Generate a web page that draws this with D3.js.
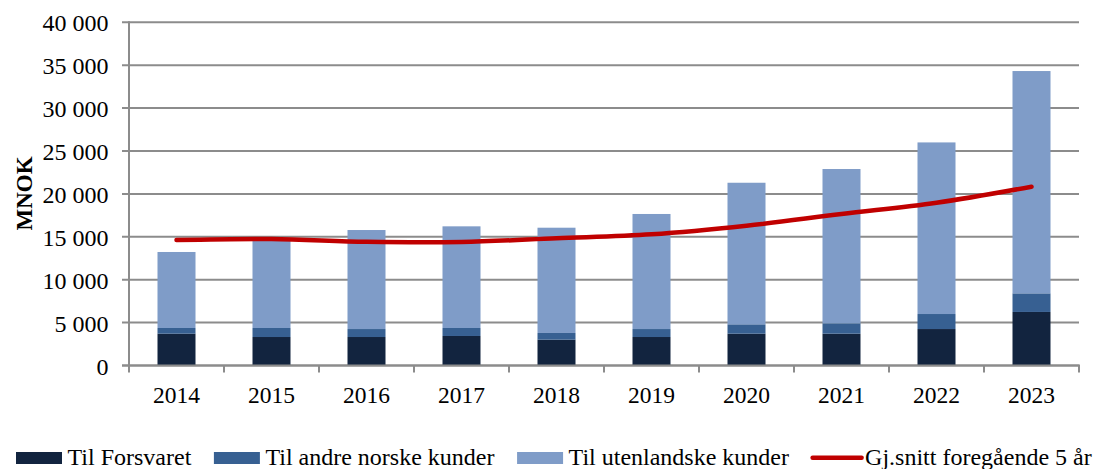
<!DOCTYPE html>
<html>
<head>
<meta charset="utf-8">
<script src="https://cdn.jsdelivr.net/npm/d3@7"></script>
<style>
  html, body { margin: 0; padding: 0; background: #fff; }
  svg { display: block; }
  text { font-family: "Liberation Serif", "DejaVu Serif", serif; fill: #000; }
</style>
</head>
<body>
<svg id="chart" width="1094" height="469"></svg>
<script>
const years = ["2014","2015","2016","2017","2018","2019","2020","2021","2022","2023"];
const forsvaret = [3710, 3320, 3320, 3440, 3010, 3320, 3710, 3710, 4250, 6240];
const andreNorske = [660, 1050, 930, 930, 780, 930, 1090, 1210, 1750, 2170];
const utenlandske = [8860, 10370, 11540, 11850, 12270, 13410, 16500, 17980, 20000, 25910];
const snitt5 = [14630, 14750, 14420, 14400, 14830, 15290, 16290, 17660, 18970, 20840];
const yTicks = [0, 5000, 10000, 15000, 20000, 25000, 30000, 35000, 40000];
const seriesNames = ["Til Forsvaret", "Til andre norske kunder", "Til utenlandske kunder"];
const lineName = "Gj.snitt foregående 5 år";
const colors = ["#12243F", "#376092", "#7F9CC8"];
const lineColor = "#C00000";

(function () {
const svg = d3.select("#chart");
const pLeft = 129, pRight = 1079, pTop = 22.3, pBottom = 365.5;

const x = d3.scaleBand().domain(years).range([pLeft, pRight]).paddingInner(0.6).paddingOuter(0.3);
const y = d3.scaleLinear().domain([0, 40000]).range([pBottom, pTop]);

const fmt = v => d3.format(",")(v).replace(/,/g, " ");

// gridlines
svg.append("g").selectAll("line").data(yTicks).join("line")
  .attr("x1", pLeft - 7).attr("x2", pRight)
  .attr("y1", d => y(d)).attr("y2", d => y(d))
  .attr("stroke", "#8c8c8c").attr("stroke-width", 2);

// y tick labels
svg.append("g").selectAll("text").data(yTicks).join("text")
  .attr("x", 108.5).attr("y", d => y(d) + 1)
  .attr("text-anchor", "end").attr("dominant-baseline", "central")
  .style("font-size", "24px")
  .text(d => fmt(d));

// stacked bars
const rows = years.map((yr, i) => ({ year: yr, f: forsvaret[i], a: andreNorske[i], u: utenlandske[i] }));
const stack = d3.stack().keys(["f", "a", "u"])(rows);
svg.append("g").selectAll("g").data(stack).join("g")
  .attr("fill", (d, i) => colors[i])
  .selectAll("rect").data(d => d).join("rect")
  .attr("x", d => x(d.data.year))
  .attr("width", x.bandwidth())
  .attr("y", d => y(d[1]))
  .attr("height", d => y(d[0]) - y(d[1]));

// axes lines
svg.append("line").attr("x1", pLeft).attr("x2", pLeft).attr("y1", pTop - 1).attr("y2", pBottom + 1)
  .attr("stroke", "#8c8c8c").attr("stroke-width", 2);
svg.append("line").attr("x1", pLeft - 7).attr("x2", pRight + 1).attr("y1", pBottom).attr("y2", pBottom)
  .attr("stroke", "#8c8c8c").attr("stroke-width", 2);
const step = x.step();
svg.append("g").selectAll("line").data(d3.range(years.length + 1)).join("line")
  .attr("x1", i => pLeft + i * step).attr("x2", i => pLeft + i * step)
  .attr("y1", pBottom).attr("y2", pBottom + 7)
  .attr("stroke", "#8c8c8c").attr("stroke-width", 2);

// x labels
svg.append("g").selectAll("text").data(years).join("text")
  .attr("x", d => x(d) + x.bandwidth() / 2).attr("y", 402.5)
  .attr("text-anchor", "middle")
  .style("font-size", "23.5px")
  .text(d => d);

// line
const line = d3.line()
  .x((d, i) => x(years[i]) + x.bandwidth() / 2)
  .y(d => y(d))
  .curve(d3.curveCardinal.tension(0));
svg.append("path").datum(snitt5)
  .attr("d", line)
  .attr("fill", "none").attr("stroke", lineColor)
  .attr("stroke-width", 4.5).attr("stroke-linecap", "round");

// y axis title
svg.append("text")
  .attr("transform", "translate(32,193.5) rotate(-90)")
  .attr("text-anchor", "middle")
  .style("font-size", "23px").style("font-weight", "bold")
  .text("MNOK");

// legend
const legend = svg.append("g");
let lx = 16;
const items = seriesNames.map((n, i) => ({ name: n, type: "rect", color: colors[i] }))
  .concat([{ name: lineName, type: "line", color: lineColor }]);
items.forEach(it => {
  if (it.type === "rect") {
    legend.append("rect").attr("x", lx).attr("y", 452).attr("width", 46).attr("height", 12).attr("fill", it.color);
  } else {
    legend.append("line").attr("x1", lx + 1).attr("x2", lx + 50).attr("y1", 457.8).attr("y2", 457.8)
      .attr("stroke", it.color).attr("stroke-width", 4.5).attr("stroke-linecap", "round");
  }
  const tx = lx + (it.type === "rect" ? 51.5 : 53.5);
  const t = legend.append("text").attr("x", tx).attr("y", 465).style("font-size", "24px").text(it.name);
  const w = t.node().getComputedTextLength();
  lx = tx + w + 22.6;
});
})();
</script>
</body>
</html>
